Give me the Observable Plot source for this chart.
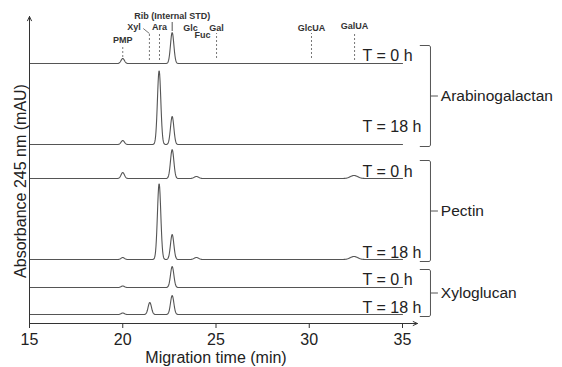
<!DOCTYPE html>
<html><head><meta charset="utf-8">
<script src="https://cdn.jsdelivr.net/npm/d3@7"></script>
<script src="https://cdn.jsdelivr.net/npm/@observablehq/plot@0.6"></script>
<style>body{margin:0;background:#fff} svg{overflow:visible}</style>
</head><body><div id="chart"></div>
<script>
// ---- data ----
const groups = ["Arabinogalactan", "Pectin", "Xyloglucan"];
const timeLabels = ["T = 0 h", "T = 18 h"];
const xTicks = [15, 20, 25, 30, 35];
// traces (top to bottom): group index, time label index, stacking offset (mAU)
const traceGroup = [0, 0, 1, 1, 2, 2];
const traceTime = [0, 1, 0, 1, 0, 1];
const traceOffset = [260, 179, 145, 64, 36, 9];
// peaks per trace: [migration time (min), height (mAU), width sigma (min)]
const tracePeaks = [
  [[20.0, 5, 0.09], [22.65, 31, 0.09]],
  [[20.0, 4, 0.09], [21.95, 74, 0.09], [22.65, 28, 0.09]],
  [[20.0, 6, 0.09], [22.65, 29, 0.09], [23.95, 2, 0.12], [32.4, 3, 0.2]],
  [[20.0, 2, 0.09], [21.95, 76, 0.09], [22.65, 25, 0.09], [23.95, 2, 0.12], [32.4, 3, 0.2]],
  [[20.0, 1.5, 0.09], [22.65, 21, 0.09]],
  [[20.0, 1.5, 0.09], [21.45, 12, 0.09], [22.65, 19, 0.09]]
];
// reference peak labels
const peakNames = ["PMP", "Xyl", "Ara", "Rib (Internal STD)", "Glc", "Fuc", "Gal", "GlcUA", "GalUA"];
const peakTimes = [20.0, 21.43, 21.97, 22.65, 23.63, 24.28, 25.03, 30.12, 32.43];

// ---- layout (not data) ----
const labelX = [20.0, 20.6, 21.97, 22.65, 23.63, 24.28, 25.03, 30.12, 32.43];
const labelY = [281, 294, 294, 305, 293, 286, 293, 293, 295];
const guide = {0: [266, 278, "2,2"], 1: [263, 290, "2,2"], 2: [263, 290, "2,2"], 3: [292, 301, null],
               6: [265, 290, "2,2"], 7: [265, 290, "2,2"], 8: [263, 290, "2,2"]};
const tLabelLift = [3, 13, 2, 2, 3, 2];

// ---- build tables ----
const grid = d3.range(15, 35.0001, 0.02);
const lines = [];
tracePeaks.forEach((peaks, i) => {
  for (const t of grid) {
    let v = traceOffset[i];
    for (const [c, h, s] of peaks) v += h * Math.exp(-0.5 * ((t - c) / s) ** 2);
    lines.push({trace: i, t, v});
  }
});
const tLabels = traceOffset.map((o, i) => ({x: 32.86, y: o, text: timeLabels[traceTime[i]], lift: tLabelLift[i]}));
const peakLabelData = peakNames.map((n, i) => ({name: n, x: labelX[i], y: labelY[i]}));
const guides = Object.entries(guide).map(([i, g]) => ({x: peakTimes[+i], y1: g[0], y2: g[1], dash: g[2]}));

const brackets = [];
const groupLabels = [];
groups.forEach((g, gi) => {
  const offs = traceOffset.filter((_, i) => traceGroup[i] === gi);
  const top = d3.max(offs) + 18, bot = d3.min(offs) - 2, mid = (top + bot) / 2;
  brackets.push([[35.95, top], [36.45, top], [36.5, top - 1.5], [36.5, bot + 1.5], [36.45, bot], [35.95, bot]].map(([x, y]) => ({g: gi, x, y})));
  groupLabels.push({g, x: 36.5, y: mid});
});

const font = "Liberation Sans, Arial, Helvetica, sans-serif";
const chart = Plot.plot({
  width: 562, height: 367,
  marginLeft: 29, marginRight: 160, marginTop: 18, marginBottom: 44,
  style: {fontFamily: font, background: "#fff", color: "#222"},
  x: {domain: [15, 35]},
  y: {domain: [0, 305], axis: null},
  marks: [
    Plot.line(lines, {x: "t", y: "v", z: "trace", stroke: "#555", strokeWidth: 1.1}),
    Plot.arrow([{x1: 15, y1: 0, x2: 15, y2: 307}], {x1: "x1", y1: "y1", x2: "x2", y2: "y2", stroke: "#333", strokeWidth: 1, headLength: 7, headAngle: 50}),
    Plot.arrow([{x1: 15, y1: 0, x2: 35.8, y2: 0}], {x1: "x1", y1: "y1", x2: "x2", y2: "y2", stroke: "#333", strokeWidth: 1, headLength: 7, headAngle: 50}),
    Plot.axisX({ticks: xTicks, tickSize: 5, tickPadding: 5, fontSize: 16, label: null, stroke: "#333", fill: "#222"}),
    Plot.text(["Migration time (min)"], {frameAnchor: "bottom", dy: 28, lineAnchor: "top", fontSize: 16, fill: "#222"}),
    Plot.text(["Absorbance 245 nm (mAU)"], {frameAnchor: "left", textAnchor: "middle", lineAnchor: "middle", rotate: -90, dx: -9, dy: 10, fontSize: 16, fill: "#222"}),
    Plot.ruleX(guides.filter(d => d.dash), {x: "x", y1: "y1", y2: "y2", stroke: "#777", strokeWidth: 1, strokeDasharray: "2,2"}),
    Plot.ruleX(guides.filter(d => !d.dash), {x: "x", y1: "y1", y2: "y2", stroke: "#555", strokeWidth: 1}),
    Plot.link([{x1: 21.1, y1: 295, x2: 21.43, y2: 290}], {x1: "x1", y1: "y1", x2: "x2", y2: "y2", stroke: "#777", strokeWidth: 1}),
    Plot.text(peakLabelData, {x: "x", y: "y", text: "name", lineAnchor: "bottom", fontSize: 9, fontWeight: "bold", fill: "#333"}),
    ...tLabels.map(d => Plot.text([d], {x: "x", y: "y", text: "text", textAnchor: "start", lineAnchor: "bottom", dy: -d.lift, fontSize: 16, fill: "#222"})),
    ...brackets.map(b => Plot.line(b, {x: "x", y: "y", stroke: "#555", strokeWidth: 1})),
    Plot.link(groupLabels, {x1: "x", x2: d => d.x + 0.4, y1: "y", y2: "y", stroke: "#555", strokeWidth: 1}),
    Plot.text(groupLabels, {x: d => d.x + 0.45, y: "y", text: "g", textAnchor: "start", dx: 2, fontSize: 15.5, fill: "#222"})
  ]
});
document.getElementById("chart").appendChild(chart);
</script>
</body></html>
